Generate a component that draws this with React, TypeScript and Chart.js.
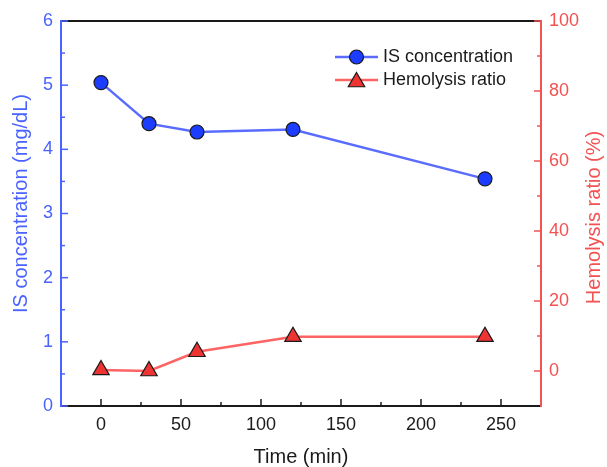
import React, { useEffect, useRef } from 'react';
import { Chart, registerables } from 'chart.js';

Chart.register(...registerables);

// ---- data ----
const times = [0, 30, 60, 120, 240];
const isConcentration = [5.04, 4.4, 4.27, 4.31, 3.54];
const hemolysisRatio = [0.3, 0, 5.5, 9.8, 9.8];

const xTicks = [0, 50, 100, 150, 200, 250];
const xMinorTicks = [25, 75, 125, 175, 225];
const leftTicks = [0, 1, 2, 3, 4, 5, 6];
const leftMinorTicks = [0.5, 1.5, 2.5, 3.5, 4.5, 5.5];
const rightTicks = [0, 20, 40, 60, 80, 100];
const rightMinorTicks = [10, 30, 50, 70, 90];

const seriesLabels = ['IS concentration', 'Hemolysis ratio'];
const xTitle = 'Time (min)';
const leftTitle = 'IS concentration (mg/dL)';
const rightTitle = 'Hemolysis ratio (%)';

// ---- styles ----
const FONT = "'Liberation Sans', Arial, Helvetica, sans-serif";
const AXIS_BLUE = '#4a62ff';
const LINE_BLUE = '#5a6cff';
const MARK_BLUE = '#1c3cff';
const AXIS_RED = '#f25252';
const LINE_RED = '#ff6464';
const MARK_RED = '#ee3333';
const DARK = '#1a1a1a';

const axesPlugin = {
  id: 'customAxes',
  beforeDatasetsDraw(chart: any) {
    const { ctx, chartArea, scales } = chart;
    const { left, right, top, bottom } = chartArea;
    const seg = (x1: number, y1: number, x2: number, y2: number, c: string, w: number) => {
      ctx.beginPath();
      ctx.strokeStyle = c;
      ctx.lineWidth = w;
      ctx.moveTo(x1, y1);
      ctx.lineTo(x2, y2);
      ctx.stroke();
    };
    ctx.save();
    seg(left, top, right, top, DARK, 2);
    seg(left, bottom, right, bottom, DARK, 2);
    seg(left, top - 1, left, bottom + 1, AXIS_BLUE, 2);
    seg(right, top - 1, right, bottom + 1, AXIS_RED, 2);
    const major = 7;
    const minor = 4;
    xTicks.forEach((v) => {
      const x = scales.x.getPixelForValue(v);
      seg(x, bottom, x, bottom - major, DARK, 1.5);
    });
    xMinorTicks.forEach((v) => {
      const x = scales.x.getPixelForValue(v);
      seg(x, bottom, x, bottom - minor, DARK, 1.5);
    });
    leftTicks.forEach((v) => {
      const y = scales.y.getPixelForValue(v);
      seg(left, y, left + major, y, AXIS_BLUE, 1.5);
    });
    leftMinorTicks.forEach((v) => {
      const y = scales.y.getPixelForValue(v);
      seg(left, y, left + minor, y, AXIS_BLUE, 1.5);
    });
    rightTicks.forEach((v) => {
      const y = scales.y1.getPixelForValue(v);
      seg(right, y, right - major, y, AXIS_RED, 1.5);
    });
    rightMinorTicks.forEach((v) => {
      const y = scales.y1.getPixelForValue(v);
      seg(right, y, right - minor, y, AXIS_RED, 1.5);
    });

    // vertical axis titles (both read bottom-to-top)
    const midY = (top + bottom) / 2;
    ctx.font = `20px ${FONT}`;
    ctx.textAlign = 'center';
    ctx.textBaseline = 'middle';
    ctx.save();
    ctx.translate(21.5, midY - 10);
    ctx.rotate(-Math.PI / 2);
    ctx.fillStyle = AXIS_BLUE;
    ctx.fillText(leftTitle, 0, 0);
    ctx.restore();
    ctx.save();
    ctx.translate(chart.width - 13, midY + 4);
    ctx.rotate(-Math.PI / 2);
    ctx.fillStyle = AXIS_RED;
    ctx.fillText(rightTitle, 0, 0);
    ctx.restore();
    ctx.restore();
  },
};

const legendPlugin = {
  id: 'customLegend',
  afterDatasetsDraw(chart: any) {
    const { ctx, chartArea } = chart;
    const x0 = chartArea.right - 206;
    const x1 = chartArea.right - 163;
    const xm = (x0 + x1) / 2;
    const tx = chartArea.right - 158;
    const rows = [chartArea.top + 36, chartArea.top + 59];
    ctx.save();
    // row 1
    ctx.beginPath();
    ctx.strokeStyle = LINE_BLUE;
    ctx.lineWidth = 2.5;
    ctx.moveTo(x0, rows[0]);
    ctx.lineTo(x1, rows[0]);
    ctx.stroke();
    ctx.beginPath();
    ctx.arc(xm, rows[0], 7, 0, Math.PI * 2);
    ctx.fillStyle = MARK_BLUE;
    ctx.fill();
    ctx.lineWidth = 1.2;
    ctx.strokeStyle = DARK;
    ctx.stroke();
    // row 2
    ctx.beginPath();
    ctx.strokeStyle = LINE_RED;
    ctx.lineWidth = 2.5;
    ctx.moveTo(x0, rows[1]);
    ctx.lineTo(x1, rows[1]);
    ctx.stroke();
    const r = 9.5;
    const cy = rows[1] + 2;
    ctx.beginPath();
    ctx.moveTo(xm, cy - r);
    ctx.lineTo(xm + r * Math.sin((2 * Math.PI) / 3), cy + r / 2);
    ctx.lineTo(xm - r * Math.sin((2 * Math.PI) / 3), cy + r / 2);
    ctx.closePath();
    ctx.fillStyle = MARK_RED;
    ctx.fill();
    ctx.lineWidth = 1.2;
    ctx.strokeStyle = DARK;
    ctx.stroke();
    // text
    ctx.fillStyle = DARK;
    ctx.font = `18px ${FONT}`;
    ctx.textAlign = 'left';
    ctx.textBaseline = 'middle';
    ctx.fillText(seriesLabels[0], tx, rows[0]);
    ctx.fillText(seriesLabels[1], tx, rows[1]);
    ctx.restore();
  },
};

export default function App() {
  const canvasRef = useRef<HTMLCanvasElement | null>(null);

  useEffect(() => {
    if (!canvasRef.current) return;
    const chart = new Chart(canvasRef.current, {
      type: 'line',
      data: {
        datasets: [
          {
            label: seriesLabels[0],
            data: times.map((t, i) => ({ x: t, y: isConcentration[i] })),
            yAxisID: 'y',
            borderColor: LINE_BLUE,
            borderWidth: 2.5,
            pointRadius: 7,
            pointHoverRadius: 7,
            pointBackgroundColor: MARK_BLUE,
            pointBorderColor: DARK,
            pointBorderWidth: 1.2,
            tension: 0,
          },
          {
            label: seriesLabels[1],
            data: times.map((t, i) => ({ x: t, y: hemolysisRatio[i] })),
            yAxisID: 'y1',
            borderColor: LINE_RED,
            borderWidth: 2.5,
            pointStyle: 'triangle',
            pointRadius: 9.5,
            pointHoverRadius: 9.5,
            pointBackgroundColor: MARK_RED,
            pointBorderColor: DARK,
            pointBorderWidth: 1.2,
            tension: 0,
          },
        ],
      },
      options: {
        responsive: false,
        animation: false,
        layout: { padding: { top: 21, left: 0, right: 0, bottom: 0 } },
        plugins: {
          legend: { display: false },
          tooltip: { enabled: false },
        },
        scales: {
          x: {
            type: 'linear',
            position: 'bottom',
            min: -25,
            max: 275,
            afterBuildTicks: (s: any) => {
              s.ticks = xTicks.map((v) => ({ value: v }));
            },
            afterFit: (s: any) => {
              s.height = 61;
            },
            grid: { display: false, drawTicks: false },
            border: { display: false },
            ticks: { color: DARK, font: { family: FONT, size: 18 }, padding: 8, maxRotation: 0 },
            title: {
              display: true,
              text: xTitle,
              color: DARK,
              font: { family: FONT, size: 20, lineHeight: 1 },
              padding: { top: 0, bottom: 0 },
            },
          },
          y: {
            type: 'linear',
            position: 'left',
            min: 0,
            max: 6,
            afterBuildTicks: (s: any) => {
              s.ticks = leftTicks.map((v) => ({ value: v }));
            },
            afterFit: (s: any) => {
              s.width = 61;
            },
            grid: { display: false, drawTicks: false },
            border: { display: false },
            ticks: { color: AXIS_BLUE, font: { family: FONT, size: 18 }, padding: 8 },
            title: { display: false, text: leftTitle },
          },
          y1: {
            type: 'linear',
            position: 'right',
            min: -10,
            max: 100,
            afterBuildTicks: (s: any) => {
              s.ticks = rightTicks.map((v) => ({ value: v }));
            },
            afterFit: (s: any) => {
              s.width = 66;
            },
            grid: { display: false, drawTicks: false },
            border: { display: false },
            ticks: { color: AXIS_RED, font: { family: FONT, size: 18 }, padding: 8 },
            title: { display: false, text: rightTitle },
          },
        },
      },
      plugins: [axesPlugin, legendPlugin],
    } as any);
    return () => chart.destroy();
  }, []);

  return (
    <div style={{ position: 'absolute', left: 0, top: 0, width: 607, height: 467, background: '#fff' }}>
      <canvas ref={canvasRef} width={607} height={467} />
    </div>
  );
}
